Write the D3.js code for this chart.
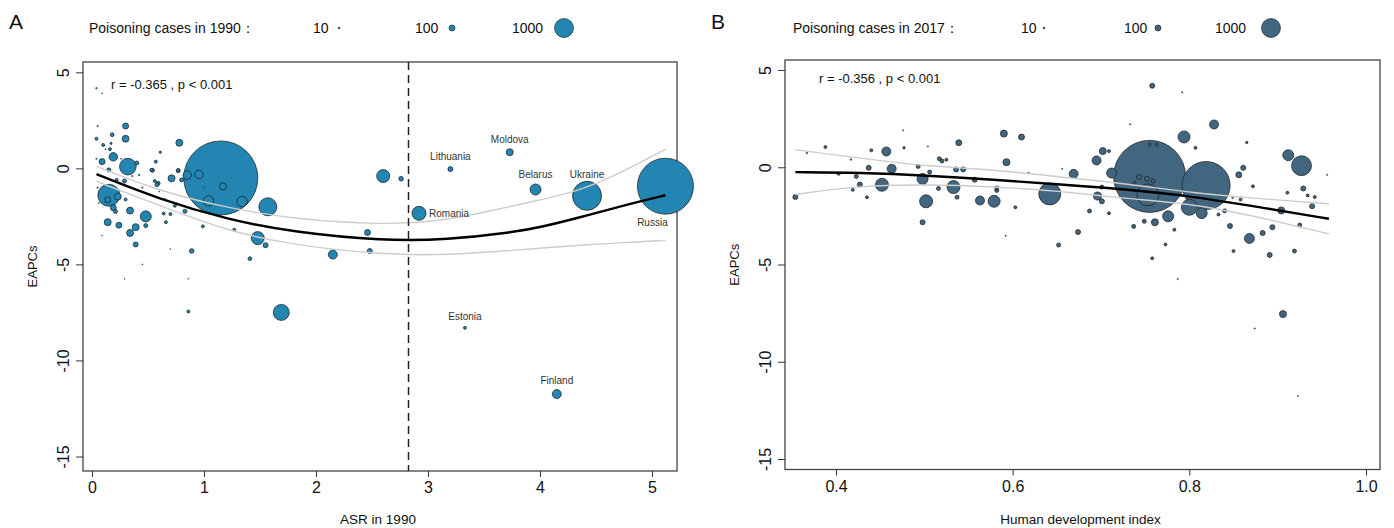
<!DOCTYPE html>
<html>
<head>
<meta charset="utf-8">
<script src="https://cdn.jsdelivr.net/npm/d3@7"></script>
<style>
  body { margin: 0; background: #fff; }
  text { font-family: "Liberation Sans", Arial, sans-serif; fill: #111; }
</style>
</head>
<body>
<svg id="chart" width="1394" height="528"></svg>
<script>
// ---- Panel A: ASR in 1990 vs EAPC, bubble = poisoning cases 1990
const asrA = [0.04, 0.09, 0.30, 0.30, 0.04, 0.05, 0.18, 0.10, 0.16, 0.17,
  0.19, 0.09, 0.32, 0.40, 0.15, 0.78, 0.61, 0.57, 0.54, 0.71,
  0.77, 0.80, 0.85, 0.955, 1.15, 1.17, 1.04, 1.34, 1.57, 0.56,
  0.59, 0.42, 0.22, 0.29, 0.23, 0.30, 0.15, 0.14, 0.19, 0.21,
  0.34, 0.48, 0.14, 0.24, 0.39, 0.48, 0.34, 0.39, 0.64, 0.70,
  0.66, 0.83, 0.74, 0.99, 1.27, 1.41, 0.89, 0.86, 1.48, 1.55,
  1.69, 2.15, 2.46, 2.48, 2.60, 2.76, 0.09, 0.45, 0.29, 0.70,
  0.86, 0.58, 0.53, 0.77, 0.05, 0.06, 0.04, 0.12, 0.26, 0.36,
  0.45, 0.60, 0.65, 1.00];
const eapcA = [4.17, 3.90, 2.20, 1.54, 1.54, 2.20, 1.75, 1.22, 1.00, 1.30,
  0.60, 0.35, 0.09, 0.28, -0.08, 1.33, 0.84, 0.35, -0.10, -0.52,
  -0.13, -0.60, -0.35, -0.32, -0.50, -0.94, -1.70, -1.73, -2.00, -0.66,
  -0.78, -0.35, -0.60, -0.66, -1.47, -1.62, -1.40, -1.64, -2.05, -2.25,
  -2.20, -2.50, -2.80, -2.96, -3.06, -2.98, -3.36, -3.96, -2.35, -2.38,
  -2.80, -2.23, -1.95, -3.02, -3.20, -4.70, -4.30, -7.45, -3.63, -4.00,
  -7.50, -4.49, -3.34, -4.30, -0.40, -0.54, -3.50, -5.00, -5.75, -4.20,
  -5.75, -0.85, -0.08, -0.08, -1.00, -1.80, 0.50, 1.00, 0.50, -0.40,
  -1.00, -1.20, -1.60, -1.00];
const casesA = [10, 5, 100, 130, 25, 8, 40, 25, 25, 12,
  200, 100, 770, 45, 45, 136, 15, 25, 45, 136,
  45, 45, 200, 200, 15200, 136, 300, 300, 900, 25,
  45, 11, 25, 45, 136, 25, 1340, 100, 100, 45,
  136, 336, 136, 100, 136, 45, 136, 70, 25, 25,
  25, 45, 25, 25, 25, 40, 60, 25, 470, 70,
  710, 225, 100, 70, 470, 60, 5, 4, 4, 4,
  4, 45, 25, 25, 8, 6, 8, 6, 6, 8,
  8, 6, 8, 6];

// labelled countries in panel A
const namesA = ["Lithuania", "Moldova", "Belarus", "Ukraine", "Russia", "Romania", "Estonia", "Finland"];
const namesAsr = [3.20, 3.73, 3.96, 4.42, 5.12, 2.92, 3.33, 4.15];
const namesEapc = [-0.04, 0.84, -1.10, -1.43, -0.93, -2.34, -8.30, -11.75];
const namesCases = [70, 136, 336, 2340, 8700, 545, 25, 225];

// fitted curve and confidence band, panel A
const fitAx = [0.04, 0.61, 1.2, 1.8, 2.6, 3.17, 3.76, 4.0, 4.36, 4.7, 5.12];
const fitAy = [-0.30, -1.62, -2.65, -3.33, -3.77, -3.72, -3.33, -3.07, -2.55, -2.00, -1.40];
const fitAup = [0.10, -1.20, -2.05, -2.65, -2.95, -2.73, -1.95, -1.65, -1.15, -0.30, 1.00];
const fitAlo = [-0.68, -1.95, -3.25, -4.00, -4.50, -4.52, -4.26, -4.16, -4.00, -3.88, -3.75];
const cutA = 2.826;

// ---- Panel B: HDI vs EAPC, bubble = poisoning cases 2017
const hdiB = [0.354, 0.388, 0.367, 0.403, 0.417, 0.423, 0.419, 0.427, 0.435, 0.437,
  0.440, 0.457, 0.463, 0.452, 0.476, 0.477, 0.493, 0.498, 0.502, 0.498,
  0.504, 0.506, 0.516, 0.517, 0.520, 0.525, 0.533, 0.537, 0.536, 0.544,
  0.539, 0.557, 0.563, 0.579, 0.582, 0.582, 0.590, 0.593, 0.610, 0.603,
  0.592, 0.618, 0.642, 0.652, 0.656, 0.669, 0.674, 0.758, 0.792, 0.733,
  0.828, 0.794, 0.807, 0.865, 0.702, 0.709, 0.695, 0.712, 0.755, 0.755,
  0.763, 0.743, 0.752, 0.759, 0.738, 0.753, 0.701, 0.696, 0.701, 0.687,
  0.709, 0.737, 0.749, 0.761, 0.776, 0.783, 0.773, 0.758, 0.787, 0.819,
  0.800, 0.814, 0.833, 0.840, 0.846, 0.850, 0.868, 0.883, 0.891, 0.894,
  0.904, 0.919, 0.906, 0.874, 0.923, 0.856, 0.861, 0.872, 0.858, 0.849,
  0.912, 0.927, 0.929, 0.934, 0.942, 0.939, 0.911, 0.925, 0.956];
const eapcB = [-1.53, 1.04, 0.73, -0.34, 0.40, -0.47, -1.16, -0.89, -1.54, -0.03,
  0.87, 0.81, -0.08, -0.90, 1.90, 1.00, 0.04, -0.60, -1.75, -2.83,
  1.07, -0.25, -1.09, 0.44, 0.32, 0.39, -1.02, -1.54, -0.11, -0.11,
  1.26, -0.64, -1.71, -1.75, -1.19, -1.07, 1.73, 0.26, 1.55, -2.06,
  -3.52, -0.30, -1.37, -4.00, -0.08, -0.34, -3.33, 4.19, 3.85, 2.21,
  2.20, 1.56, 1.00, 1.27, 0.83, 0.83, 0.35, -0.30, -0.47, 1.18,
  1.15, -0.51, -0.59, -0.71, -0.80, -1.42, -1.02, -1.48, -1.75, -2.25,
  -2.36, -3.04, -2.78, -2.83, -2.52, -3.21, -3.97, -4.68, -5.75, -0.94,
  -2.06, -2.36, -2.43, -2.24, -3.02, -4.31, -3.66, -3.38, -4.51, -3.08,
  -2.22, -4.31, -7.55, -8.29, -11.76, -0.39, -0.03, -0.98, -1.66, -1.57,
  0.62, 0.08, -1.09, -1.45, -1.53, -2.00, -1.31, -2.97, -0.39];
const casesB = [70, 25, 11, 25, 11, 45, 25, 70, 25, 70,
  25, 225, 225, 470, 7, 16, 45, 336, 470, 70,
  7, 45, 45, 45, 45, 25, 470, 45, 70, 70,
  100, 70, 225, 400, 45, 45, 136, 136, 100, 25,
  7, 11, 1340, 45, 7, 225, 70, 70, 7, 7,
  225, 400, 25, 16, 136, 25, 225, 280, 14400, 25,
  25, 70, 70, 45, 25, 1340, 45, 178, 70, 45,
  25, 45, 45, 136, 336, 25, 25, 25, 7, 6400,
  710, 336, 25, 45, 70, 25, 280, 70, 70, 70,
  136, 45, 136, 7, 7, 100, 70, 25, 25, 11,
  336, 1100, 70, 25, 25, 70, 25, 45, 7];

const fitBx = [0.354, 0.427, 0.503, 0.578, 0.654, 0.730, 0.805, 0.880, 0.958];
const fitBy = [-0.25, -0.28, -0.42, -0.64, -0.88, -1.14, -1.50, -2.06, -2.65];
const fitBup = [0.90, 0.47, 0.04, -0.11, -0.51, -0.85, -1.33, -1.62, -1.88];
const fitBlo = [-1.40, -0.94, -0.89, -0.99, -1.23, -1.62, -1.88, -2.57, -3.43];

const legendCases = [10, 100, 1000];
const yTicks = [5, 0, -5, -10, -15];
const xTicksA = [0, 1, 2, 3, 4, 5];
const xTicksB = [0.4, 0.6, 0.8, 1.0];

const svg = d3.select("#chart");
const rScale = d3.scaleSqrt().domain([0, 1000]).range([0, 9.5]);
const curve = d3.curveBasis;

function drawPanel(p) {
  const g = svg.append("g");
  const x = d3.scaleLinear().domain(p.xDom).range(p.xRange);
  const y = d3.scaleLinear().domain([-15, 5]).range(p.yRange);

  // panel letter
  g.append("text").attr("x", p.letterX).attr("y", 29)
      .style("font-size", "21px").text(p.letter);

  // size legend
  const ly = 28;
  g.append("text").attr("x", p.legX).attr("y", ly + 5)
      .style("font-size", "14px").text(p.legTitle);
  legendCases.forEach((c, i) => {
    g.append("text").attr("x", p.legLab[i]).attr("y", ly + 5)
        .style("font-size", "14px").text(c);
    g.append("circle").attr("cx", p.legDot[i]).attr("cy", ly)
        .attr("r", rScale(c)).attr("fill", p.fill)
        .attr("stroke", "#1a1a1a").attr("stroke-width", 0.6);
  });

  // box
  g.append("rect").attr("x", p.box[0]).attr("y", p.box[1])
      .attr("width", p.box[2] - p.box[0]).attr("height", p.box[3] - p.box[1])
      .attr("fill", "none").attr("stroke", "#444").attr("stroke-width", 1.3);

  // axes (R style: hyphen minus)
  const xa = g.append("g").attr("transform", `translate(0,${p.box[3]})`)
      .call(d3.axisBottom(x).tickValues(p.xTicks).tickSize(6).tickPadding(5)
        .tickFormat(p.xFmt));
  xa.select(".domain").remove();
  xa.selectAll("line").attr("stroke", "#333");
  xa.selectAll("text").style("font-size", "16px").attr("fill", "#111");

  const ya = g.append("g").attr("transform", `translate(${p.box[0]},0)`)
      .call(d3.axisLeft(y).tickValues(yTicks).tickSize(7).tickFormat(d => String(d)));
  ya.select(".domain").remove();
  ya.selectAll("line").attr("stroke", "#333");
  ya.selectAll("text").style("font-size", "16px").attr("fill", "#111")
      .attr("text-anchor", "middle").attr("dy", 0).attr("x", 0)
      .attr("transform", "translate(-20,0) rotate(-90)")
      .attr("dominant-baseline", "central");

  // axis titles
  g.append("text").attr("x", (p.box[0] + p.box[2]) / 2 - 2).attr("y", 524)
      .attr("text-anchor", "middle").style("font-size", "13.5px").text(p.xTitle);
  g.append("text").attr("transform", `translate(${p.box[0] - 46},${(p.box[1] + p.box[3]) / 2}) rotate(-90)`)
      .attr("text-anchor", "middle").style("font-size", "13px").text("EAPCs");

  // bubbles (largest first so small ones stay visible)
  const pts = p.xs.map((v, i) => ({x: v, y: p.ys[i], c: p.cs[i]}))
      .sort((a, b) => b.c - a.c);
  g.append("g").selectAll("circle").data(pts).join("circle")
      .attr("cx", d => x(d.x)).attr("cy", d => y(d.y))
      .attr("r", d => Math.max(0.6, rScale(d.c)))
      .attr("fill", p.fill).attr("stroke", "#1a1a1a")
      .attr("stroke-width", d => d.c < 12 ? 0.3 : 0.7);

  // confidence band and fit
  const band = (ys) => d3.line().curve(curve)
      .x((d, i) => x(p.fitX[i])).y(d => y(d))(ys);
  g.append("path").attr("d", band(p.fitUp)).attr("fill", "none")
      .attr("stroke", "#cdcdcd").attr("stroke-width", 1.4);
  g.append("path").attr("d", band(p.fitLo)).attr("fill", "none")
      .attr("stroke", "#cdcdcd").attr("stroke-width", 1.4);
  g.append("path").attr("d", band(p.fitY)).attr("fill", "none")
      .attr("stroke", "#000").attr("stroke-width", 2.4);

  // correlation text
  g.append("text").attr("x", p.rX).attr("y", p.rY)
      .style("font-size", "13px").text(p.rText);

  return {g, x, y};
}

const A = drawPanel({
  letter: "A", letterX: 9,
  legTitle: "Poisoning cases in 1990：", legX: 89,
  legLab: [313, 415, 512], legDot: [339, 452, 564],
  box: [83, 62, 677, 471], xDom: [0, 5], xRange: [92, 652], yRange: [456.5, 72.3],
  xTicks: xTicksA, xFmt: d3.format("d"), xTitle: "ASR in 1990",
  fill: "#2385b1",
  xs: asrA.concat(namesAsr), ys: eapcA.concat(namesEapc), cs: casesA.concat(namesCases),
  fitX: fitAx, fitY: fitAy, fitUp: fitAup, fitLo: fitAlo,
  rText: "r = -0.365 , p < 0.001", rX: 111, rY: 89
});

// threshold line
A.g.append("line").attr("x1", A.x(cutA)).attr("x2", A.x(cutA))
    .attr("y1", 62).attr("y2", 471)
    .attr("stroke", "#222").attr("stroke-width", 1.5).attr("stroke-dasharray", "8,5");

// country labels
const labelPos = {Romania: "right", Russia: "below"};
namesA.forEach((n, i) => {
  const cx = A.x(namesAsr[i]), cy = A.y(namesEapc[i]), r = rScale(namesCases[i]);
  const t = A.g.append("text").style("font-size", "10px").style("fill", "#333").text(n);
  if (labelPos[n] === "right") {
    t.attr("x", cx + r + 3).attr("y", cy + 3.5);
  } else if (labelPos[n] === "below") {
    t.attr("x", cx - 13).attr("y", cy + r + 12).attr("text-anchor", "middle");
  } else {
    t.attr("x", cx).attr("y", cy - 7 - 0.75 * r).attr("text-anchor", "middle");
  }
});

drawPanel({
  letter: "B", letterX: 711,
  legTitle: "Poisoning cases in 2017：", legX: 793,
  legLab: [1021, 1124, 1215], legDot: [1044, 1158, 1271],
  box: [785, 60, 1380, 469.5], xDom: [0.4, 1.0], xRange: [836, 1366], yRange: [459, 70],
  xTicks: xTicksB, xFmt: d3.format(".1f"), xTitle: "Human development index",
  fill: "#42667f",
  xs: hdiB, ys: eapcB, cs: casesB,
  fitX: fitBx, fitY: fitBy, fitUp: fitBup, fitLo: fitBlo,
  rText: "r = -0.356 , p < 0.001", rX: 819, rY: 83
});
</script>
</body>
</html>
